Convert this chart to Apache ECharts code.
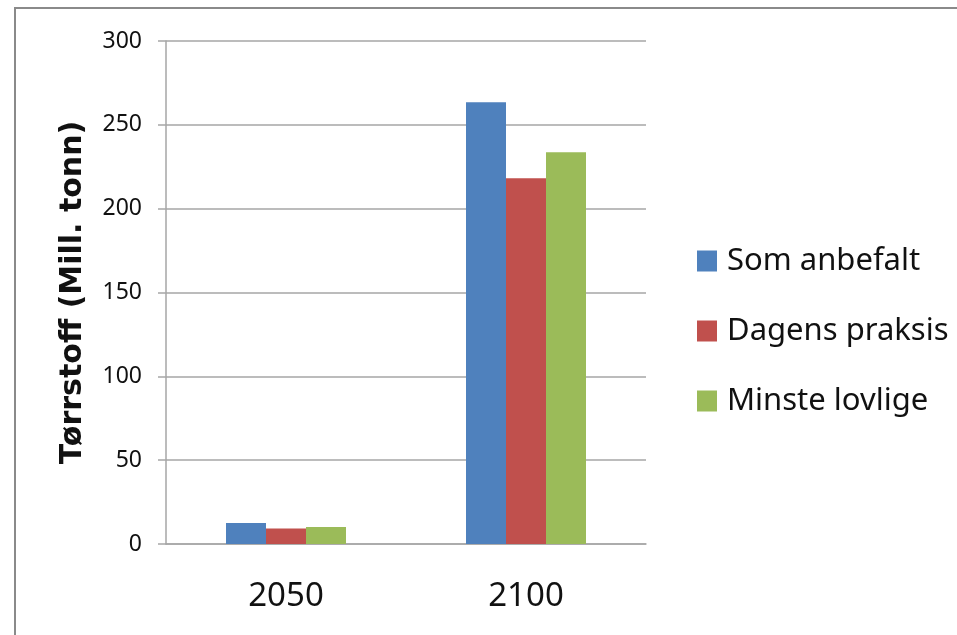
<!DOCTYPE html>
<html>
<head>
<meta charset="utf-8">
<script src="https://cdn.jsdelivr.net/npm/echarts@6/dist/echarts.min.js"></script>
<style>
  html, body { margin: 0; padding: 0; background: #fff; }
  #chart { width: 957px; height: 635px; }
</style>
</head>
<body>
<div id="chart"></div>
<script>
// Dry matter (million tonnes) per scenario and year
const years = ['2050', '2100'];
const somAnbefalt = [12.5, 263.4];
const dagensPraksis = [9.3, 218.1];
const minsteLovlige = [10.1, 233.6];
const seriesNames = ['Som anbefalt', 'Dagens praksis', 'Minste lovlige'];
const yTicks = { min: 0, max: 300, interval: 50 };
const yTitle = 'Tørrstoff (Mill. tonn)';

const colors = ['#4f81bd', '#c0504d', '#9bbb59'];
const gridColor = '#a6a6a6';
const font = 'Noto Sans';

const chart = echarts.init(document.getElementById('chart'), null, { renderer: 'canvas' });

chart.setOption({
  animation: false,
  backgroundColor: '#ffffff',
  color: colors,
  graphic: [{
    type: 'rect',
    shape: { x: 15, y: 8, width: 1000, height: 700 },
    style: { fill: 'none', stroke: '#8a8a8a', lineWidth: 2 },
    silent: true
  }],
  grid: { left: 166, right: 311, top: 41, bottom: 91, containLabel: false },
  legend: {
    orient: 'vertical',
    left: 692,
    top: 240,
    itemWidth: 20,
    itemHeight: 21,
    itemGap: 38,
    icon: 'rect',
    data: seriesNames,
    textStyle: { fontFamily: font, fontSize: 31, color: '#111', lineHeight: 32, padding: [0, 0, 0, 5] }
  },
  xAxis: {
    type: 'category',
    data: years,
    axisLine: { show: true, lineStyle: { color: gridColor, width: 1.5 } },
    axisTick: { show: false },
    axisLabel: { fontFamily: font, fontSize: 33, color: '#111', margin: 36 },
    splitLine: { show: false }
  },
  yAxis: {
    type: 'value',
    min: yTicks.min,
    max: yTicks.max,
    interval: yTicks.interval,
    name: yTitle,
    nameLocation: 'middle',
    nameGap: 78,
    nameTextStyle: { fontFamily: 'DejaVu Sans', fontWeight: 'bold', fontSize: 30, color: '#111' },
    axisLine: { show: true, lineStyle: { color: gridColor, width: 1.5 } },
    axisTick: { show: true, length: 8, lineStyle: { color: gridColor, width: 1.5 } },
    axisLabel: { fontFamily: font, fontSize: 23, color: '#111', margin: 24 },
    splitLine: { show: true, lineStyle: { color: gridColor, width: 1.5 } }
  },
  series: [
    { name: seriesNames[0], type: 'bar', data: somAnbefalt, barWidth: 40, barGap: '0%', barCategoryGap: '50%' },
    { name: seriesNames[1], type: 'bar', data: dagensPraksis, barWidth: 40, barGap: '0%' },
    { name: seriesNames[2], type: 'bar', data: minsteLovlige, barWidth: 40, barGap: '0%' }
  ]
});
</script>
</body>
</html>
